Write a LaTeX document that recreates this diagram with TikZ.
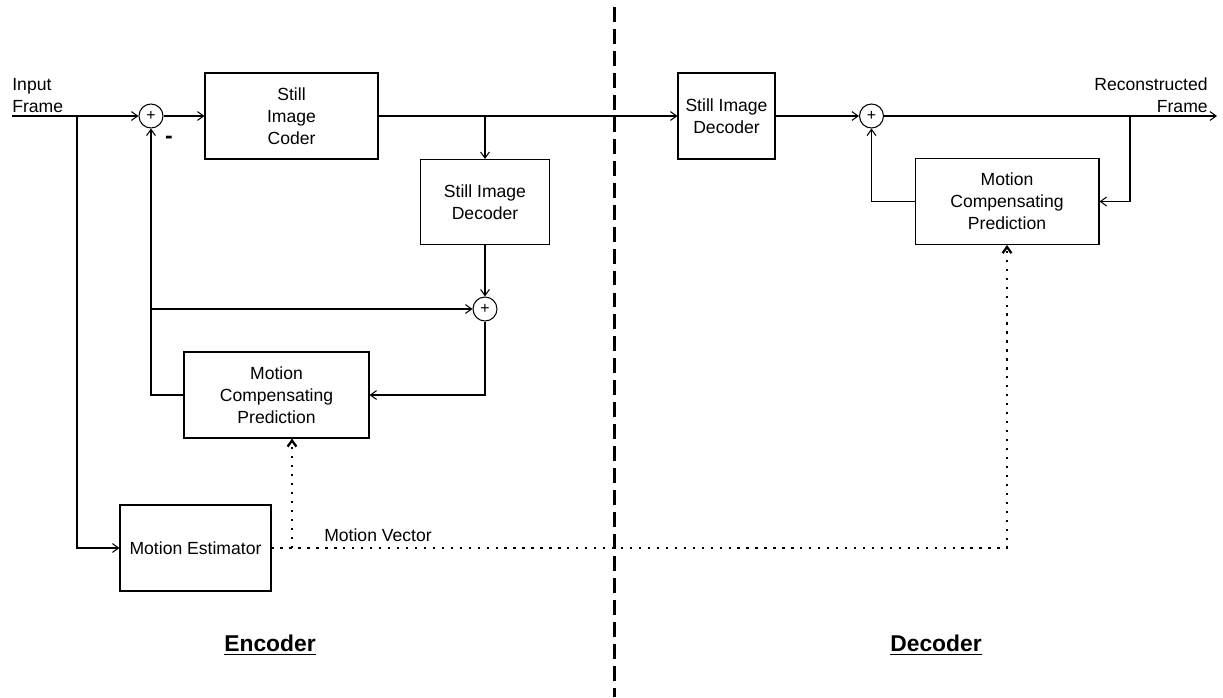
\documentclass[tikz,border=0pt]{standalone}
\usepackage{fontspec}
\setmainfont{Liberation Sans}
\usepackage{tikz}
\usetikzlibrary{arrows.meta,positioning,calc}

\begin{document}
\begin{tikzpicture}[
    x=0.02cm, y=-0.02cm,
    blk/.style={rectangle, draw=black, line width=0.6pt, align=center, font=\fontsize{10}{12.5}\selectfont},
    sumnode/.style={circle, draw=black, line width=0.6pt, minimum size=0.48cm, inner sep=0pt, font=\fontsize{9}{9}\selectfont},
    lbl/.style={inner sep=0pt, font=\fontsize{10}{12.5}\selectfont},
    arrow/.style={->, line width=0.6pt, >={Straight Barb[length=3.5pt,width=5pt]}},
    mv/.style={arrow, dash pattern=on 1.3pt off 3.8pt, line width=1.3pt},
    divider/.style={line width=1.7pt, dash pattern=on 8.5pt off 4pt}
]
    \useasboundingbox (0,0) rectangle (1223,697);

    % encoder
    \node[sumnode] (sumA) at (151,116) {+};
    \node[blk, minimum width=3.46cm, minimum height=1.72cm] (coder) at (291.5,116) {Still\\Image\\Coder};
    \node[blk, minimum width=2.58cm, minimum height=1.7cm] (sidEnc) at (485,202) {Still Image\\Decoder};
    \node[sumnode] (sumB) at (485,309) {+};
    \node[blk, minimum width=3.7cm, minimum height=1.72cm] (mcpEnc) at (276.5,395) {Motion\\Compensating\\Prediction};
    \node[blk, minimum width=3.02cm, minimum height=1.72cm] (est) at (195.5,548) {Motion Estimator};

    % decoder
    \node[blk, minimum width=1.94cm, minimum height=1.72cm] (sidDec) at (726.5,116) {Still Image\\Decoder};
    \node[sumnode] (sumC) at (871.5,116) {+};
    \node[blk, minimum width=3.68cm, minimum height=1.72cm] (mcpDec) at (1007,201.5) {Motion\\Compensating\\Prediction};

    % labels
    \node[lbl, align=left, anchor=south west] (inLbl) at (12,113) {Input\\Frame};
    \node[lbl, align=right, anchor=south east] (outLbl) at (1208,113) {Reconstructed\\Frame};
    \node[lbl, font=\fontsize{13}{13}\selectfont\bfseries] (minus) at (169,140) {-};
    \node[lbl] (mvLbl) at (378,535) {Motion Vector};
    \node[lbl, font=\fontsize{13}{13}\selectfont] (encLbl) at (270,645) {\underline{\textbf{Encoder}}};
    \node[lbl, font=\fontsize{13}{13}\selectfont] (decLbl) at (936,645) {\underline{\textbf{Decoder}}};

    \coordinate (inStart) at (12,116);
    \coordinate (tapIn) at (77,116);
    \coordinate (tapCoder) at (485,116);
    \coordinate (tapFb) at (151,309);
    \coordinate (tapOut) at (1130,116);
    \coordinate (outEnd) at (1217,116);
    \coordinate (tapMv) at (292,548);
    \coordinate (divTop) at (614,7);
    \coordinate (divBot) at (614,697);

    % connectors
    \draw[arrow] (inStart) -- (sumA.west);
    \draw[arrow] (tapIn) |- (est.west);
    \draw[arrow] (sumA.east) -- (coder.west);
    \draw[arrow] (coder.east) -- (sidDec.west);
    \draw[arrow] (tapCoder) -- (sidEnc.north);
    \draw[arrow] (sidEnc.south) -- (sumB.north);
    \draw[arrow] (sumB.south) |- (mcpEnc.east);
    \draw[arrow] (mcpEnc.west) -| (sumA.south);
    \draw[arrow] (tapFb) -- (sumB.west);
    \draw[arrow] (sidDec.east) -- (sumC.west);
    \draw[arrow] (sumC.east) -- (outEnd);
    \draw[arrow] (tapOut) |- (mcpDec.east);
    \draw[arrow] (mcpDec.west) -| (sumC.south);

    % motion vectors
    \draw[mv] (est.east) -| (mcpDec.south);
    \draw[mv] (tapMv) -- (tapMv |- mcpEnc.south);

    \draw[divider] (divTop) -- (divBot);
\end{tikzpicture}
\end{document}
